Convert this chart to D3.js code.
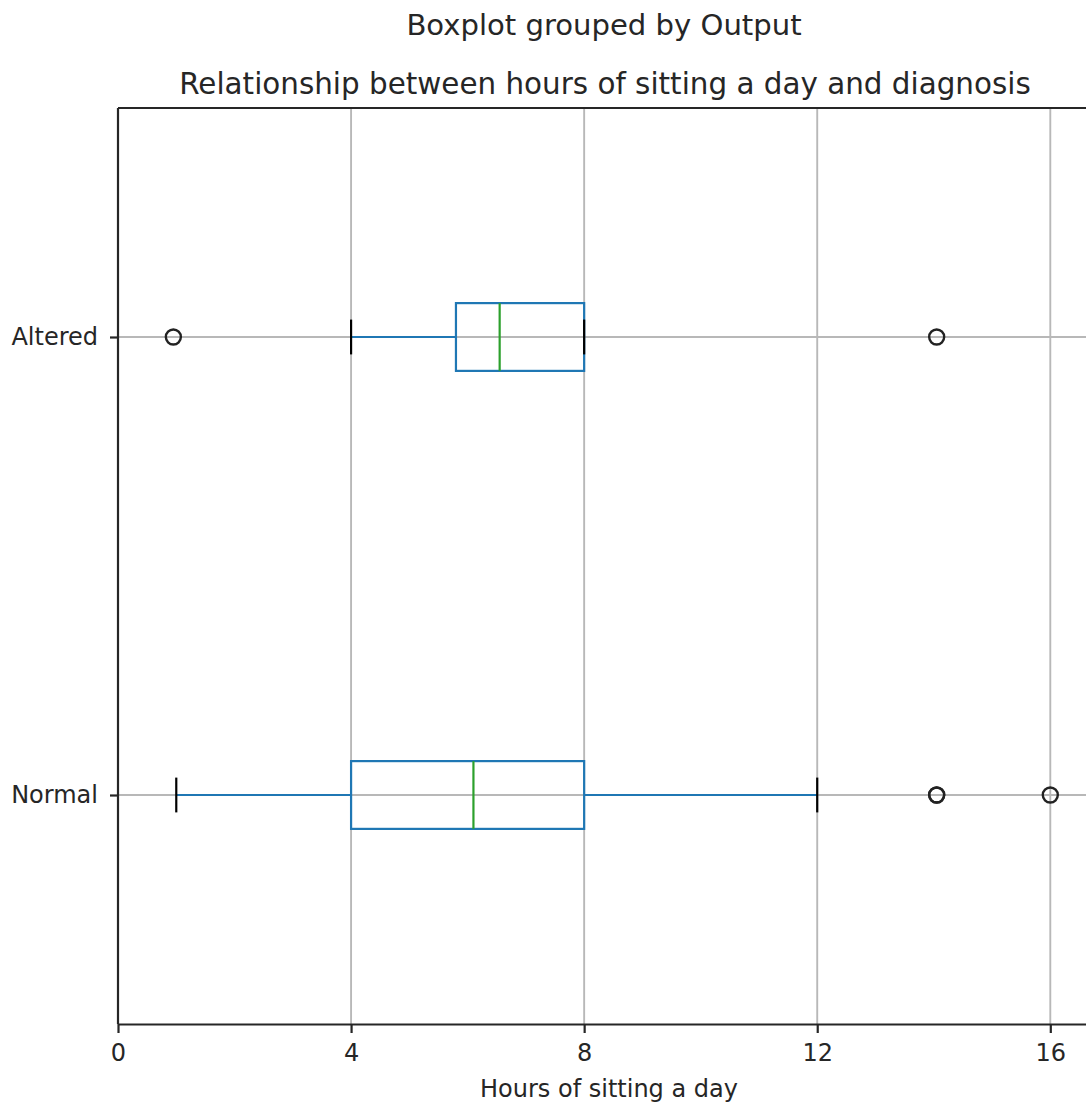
<!DOCTYPE html>
<html><head><meta charset="utf-8">
<script src="https://cdn.jsdelivr.net/npm/d3@7"></script>
<style>body{margin:0;background:#fff}svg text{font-family:"DejaVu Sans",sans-serif;fill:#262626}</style>
</head><body><svg id="c" width="1086" height="1103"></svg>
<script>
const categories = ["Normal", "Altered"];
const positions = [1, 2];
const whiskerLow = [1, 4];
const q1 = [4, 5.8];
const medians = [6.1, 6.55];
const q3 = [8, 8];
const whiskerHigh = [12, 8];
const outliers = [[14.05, 14.05, 16], [0.95, 14.05]];
const xTicks = [0, 4, 8, 12, 16];

const svg = d3.select("#c");
const L = 118, T = 108, B = 1024, R = 1094;
const x = d3.scaleLinear().domain([0, 16.75]).range([L, R]);
const y = d3.scaleLinear().domain([0.5, 2.5]).range([B, T]);
const lw = 2.2, glw = 1.9;

// grid
svg.append("g").selectAll("line").data(xTicks).join("line")
  .attr("x1", d => x(d)).attr("x2", d => x(d)).attr("y1", T).attr("y2", B)
  .attr("stroke", "#b8b8b8").attr("stroke-width", glw);
svg.append("g").selectAll("line").data(positions).join("line")
  .attr("x1", L).attr("x2", R).attr("y1", d => y(d)).attr("y2", d => y(d))
  .attr("stroke", "#b8b8b8").attr("stroke-width", glw);

const boxHalf = 0.074, capHalf = 0.038;
const g = svg.append("g");
categories.forEach((c, i) => {
  const p = positions[i];
  g.append("line").attr("x1", x(whiskerLow[i])).attr("x2", x(q1[i])).attr("y1", y(p)).attr("y2", y(p))
    .attr("stroke", "#1f77b4").attr("stroke-width", lw);
  g.append("line").attr("x1", x(q3[i])).attr("x2", x(whiskerHigh[i])).attr("y1", y(p)).attr("y2", y(p))
    .attr("stroke", "#1f77b4").attr("stroke-width", lw);
  g.append("rect").attr("x", x(q1[i])).attr("y", y(p + boxHalf))
    .attr("width", x(q3[i]) - x(q1[i])).attr("height", y(p - boxHalf) - y(p + boxHalf))
    .attr("fill", "none").attr("stroke", "#1f77b4").attr("stroke-width", lw);
  [whiskerLow[i], whiskerHigh[i]].forEach(v => {
    g.append("line").attr("x1", x(v)).attr("x2", x(v)).attr("y1", y(p + capHalf)).attr("y2", y(p - capHalf))
      .attr("stroke", "#000").attr("stroke-width", lw);
  });
  g.append("line").attr("x1", x(medians[i])).attr("x2", x(medians[i])).attr("y1", y(p + boxHalf)).attr("y2", y(p - boxHalf))
    .attr("stroke", "#2ca02c").attr("stroke-width", lw);
  g.selectAll(null).data(outliers[i]).join("circle")
    .attr("cx", d => x(d)).attr("cy", y(p)).attr("r", 7.5)
    .attr("fill", "none").attr("stroke", "#222").attr("stroke-width", 2.4);
});

// spines
svg.append("line").attr("x1", L).attr("x2", R).attr("y1", T).attr("y2", T).attr("stroke", "#262626").attr("stroke-width", lw);
svg.append("line").attr("x1", L).attr("x2", L).attr("y1", T).attr("y2", B).attr("stroke", "#262626").attr("stroke-width", lw);

// x axis
const xa = svg.append("g").attr("transform", `translate(0,${B})`)
  .call(d3.axisBottom(x).tickValues(xTicks).tickFormat(d3.format("d")).tickSize(9).tickSizeOuter(0).tickPadding(11));
xa.select(".domain").attr("stroke", "#262626").attr("stroke-width", lw);
xa.selectAll(".tick line").attr("stroke", "#262626").attr("stroke-width", lw);
xa.selectAll(".tick text").attr("font-size", 24).attr("font-family", "DejaVu Sans").attr("fill", "#262626");

// y axis
const ya = svg.append("g").attr("transform", `translate(${L},0)`)
  .call(d3.axisLeft(y).tickValues(positions).tickFormat((d, i) => categories[i]).tickSize(8).tickSizeOuter(0).tickPadding(12));
ya.select(".domain").remove();
ya.selectAll(".tick line").attr("stroke", "#262626").attr("stroke-width", lw);
ya.selectAll(".tick text").attr("font-size", 24).attr("font-family", "DejaVu Sans").attr("fill", "#262626");

// titles
svg.append("text").attr("x", 604).attr("y", 35).attr("text-anchor", "middle").attr("font-size", 29.1).text("Boxplot grouped by Output");
svg.append("text").attr("x", 605).attr("y", 94).attr("text-anchor", "middle").attr("font-size", 29.4).text("Relationship between hours of sitting a day and diagnosis");
svg.append("text").attr("x", 609).attr("y", 1097).attr("text-anchor", "middle").attr("font-size", 24).text("Hours of sitting a day");
</script></body></html>
